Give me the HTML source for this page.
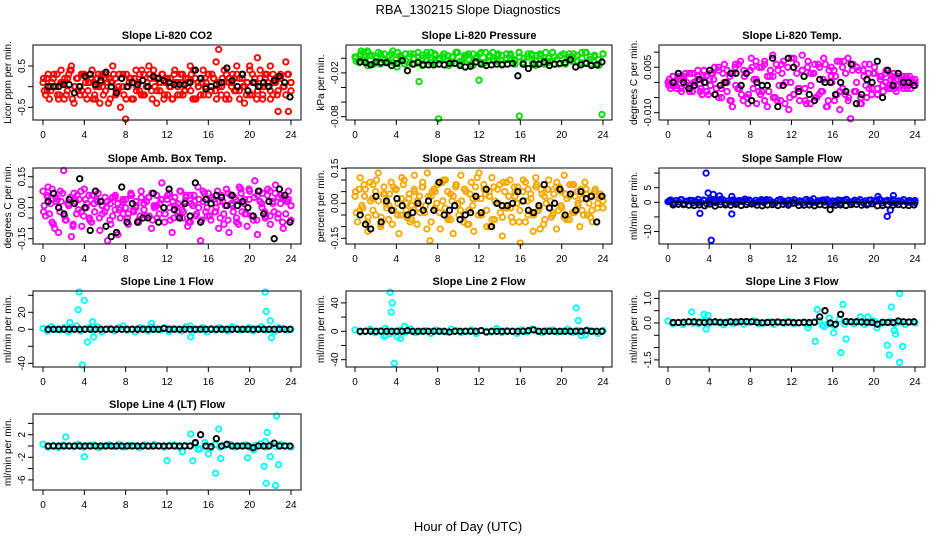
<!DOCTYPE html>
<html><head><meta charset="utf-8"><style>
html,body{margin:0;padding:0;background:#fff}
svg{display:block;font-family:"Liberation Sans",sans-serif}
</style></head><body>
<svg id="chart" width="936" height="540" viewBox="0 0 936 540">
<text x="468" y="14" text-anchor="middle" font-size="13">RBA_130215  Slope Diagnostics</text>
<text x="468" y="531" text-anchor="middle" font-size="13">Hour of Day (UTC)</text>
</svg>
<script>
// ---- data ----
const xTicks=[0,4,8,12,16,20,24];
const co2Color=[0.1,-0.2,0.3,-0.1,0.2,0.0,-0.3,0.4,0.1,-0.2,0.3,0.5,-0.4,0.2,0.0,-0.1,0.3,-0.3,0.1,0.4,-0.2,0.2,-0.4,0.0,0.3,0.1,-0.3,0.5,0.2,-0.1,-0.5,0.3,-0.8,0.0,0.2,-0.3,0.4,0.1,-0.2,0.3,0.0,0.5,-0.1,0.2,-0.4,0.1,0.3,-0.2,0.2,0.0,-0.3,0.4,0.1,-0.2,0.3,-0.1,0.0,0.5,-0.3,0.2,0.1,-0.2,0.4,0.0,0.3,-0.1,0.2,0.6,0.9,-0.2,0.1,0.3,-0.3,0.0,0.2,0.5,-0.1,0.3,-0.4,0.1,0.5,-0.2,0.2,0.7,0.0,-0.3,0.3,0.1,0.5,-0.2,0.2,-0.6,0.3,0.0,0.6,-0.6,0.1];
const co2Color2=[-0.1,0.2,-0.3,0.1,0.0,0.3,-0.2,0.1,0.2,-0.1,0.4,-0.3,0.0,0.2,-0.2,0.3,0.1,-0.1,0.2,-0.3,0.0,0.3,0.1,-0.2,0.2,-0.4,0.1,0.3,-0.1,0.0,0.2,-0.2,0.3,0.1,-0.3,0.2,0.0,-0.1,0.4,-0.2,0.1,0.3,-0.3,0.0,0.2,-0.1,0.3,0.1,-0.2,0.2,-0.3,0.1,0.0,0.3,-0.2,0.2,0.1,-0.1,0.4,-0.3,0.0,0.2,-0.2,0.1,0.3,-0.1,0.2,-0.3,0.1,0.0,0.4,-0.2,0.2,0.1,-0.1,0.3,-0.3,0.2,0.0,0.1,-0.2,0.3,0.1,-0.1,0.4,-0.2,0.2,0.0,-0.3,0.3,0.1,-0.1,0.2,0.0,-0.2,0.3,0.1];
const co2Color3=[0.2,-0.1,0.0,0.3,-0.2,0.1,-0.3,0.2,0.4,0.0,-0.1,0.3,-0.2,0.1,0.2,-0.3,0.0,0.3,-0.1,0.2,0.1,-0.2,0.3,0.0,-0.3,0.2,0.1,-0.1,0.3,-0.2,0.0,0.2,0.4,-0.1,0.1,-0.3,0.2,0.0,0.3,-0.2,0.1,-0.1,0.2,0.3,-0.3,0.0,0.1,0.2,-0.2,0.3,-0.1,0.0,0.2,-0.3,0.1,0.3,-0.1,0.2,0.0,-0.2,0.4,0.1,-0.3,0.2,0.0,0.3,-0.1,0.1,-0.2,0.2,0.0,0.3,-0.1];
const co2Black=[0.0,0.0,0.0,0.05,0.05,-0.15,0.0,0.25,0.3,0.05,0.15,0.35,0.0,-0.15,0.2,0.0,0.1,0.05,0.15,0.0,0.25,0.2,0.15,0.1,0.05,0.05,0.05,0.1,0.4,0.2,-0.05,0.0,0.05,0.1,0.45,0.15,0.0,0.3,-0.1,0.1,0.0,0.1,0.0,0.15,0.25,0.1,-0.25];
const pressColor=[0.002,-0.006,0.008,-0.01,0.004,0.0,-0.008,0.006,-0.004,0.01,-0.012,0.002,0.006,-0.006,0.0,0.008,-0.01,0.004,-0.002,0.006,-0.008,0.002,0.004,-0.006,0.008,-0.004,0.0,0.006,-0.01,0.002,0.008,-0.006,0.004,-0.002,0.006,-0.008,0.0,0.004,-0.004,0.008,-0.006,0.002,0.006,-0.01,0.004,0.0,-0.006,0.008,-0.002,0.004,-0.008,0.006,0.0,-0.004,0.008,-0.006,0.002,0.004,-0.01,0.006];
const pressColor2=[-0.004,0.006,-0.002,0.004,-0.008,0.008,0.0,-0.006,0.006,-0.002,0.004,-0.008,0.002,0.006,-0.004,0.0,0.008,-0.006,0.004,-0.002,0.006,-0.01,0.002,0.008,-0.004,0.004,-0.008,0.0,0.006,-0.006,0.002,0.008,-0.004,0.004,-0.002,0.006,-0.008,0.002,0.0,0.006,-0.006,0.004,-0.002,0.008,-0.004,0.002,-0.008,0.006,0.0,-0.004,0.004,-0.006,0.008,-0.002,0.002,-0.008,0.006];
const pressColor3=[0.0,0.004,-0.004,0.008,-0.008,0.002,0.006,-0.002,0.004,-0.006,0.008,0.0,-0.004,0.006,-0.008,0.002,0.004,-0.002,0.008,-0.006,0.0,0.006,-0.004,0.002,0.008,-0.008,0.004,-0.002,0.006,0.0,-0.006,0.008,0.002,-0.004,0.004,-0.008,0.006,0.0,-0.002,0.008,-0.006,0.002,0.004,-0.004,0.006,-0.008,0.0,0.008,-0.002,0.004,-0.006,0.002,0.006,-0.004,0.0,0.008,-0.008,0.004,-0.002,0.006];
const pressBlack=[-0.005,-0.006,-0.009,-0.005,-0.006,-0.006,-0.01,-0.007,-0.003,-0.017,-0.008,-0.006,-0.009,-0.009,-0.009,-0.008,-0.009,-0.007,-0.007,-0.01,-0.012,-0.011,-0.005,-0.008,-0.01,-0.009,-0.008,-0.009,-0.008,-0.007,-0.024,-0.008,-0.014,-0.008,-0.008,-0.005,-0.01,-0.008,-0.007,-0.006,-0.002,-0.012,-0.009,-0.007,-0.01,-0.009,-0.005];
const pressOutX=[6.2,8.1,12,15.9,23.9,0.6,1.2];
const pressOutY=[-0.032,-0.083,-0.030,-0.079,-0.077,0.01,0.01];
const tempColor=[0.0,-0.002,0.002,-0.001,0.001,-0.003,0.002,0.0,-0.002,0.003,-0.001,0.001,-0.003,0.002,0.0,-0.004,0.003,0.001,-0.002,0.004,-0.005,0.006,-0.003,0.002,-0.008,0.005,-0.002,0.007,-0.006,0.003,-0.004,0.008,0.001,-0.007,0.005,-0.003,0.006,-0.008,0.002,0.009,-0.005,0.004,-0.006,0.007,0.0,-0.009,0.008,-0.004,0.003,-0.006,0.009,-0.002,0.005,-0.007,0.003,-0.005,0.006,-0.003,0.008,-0.008,0.004,0.0,-0.006,0.007,-0.009,0.005,-0.004,0.008,-0.012,0.006,-0.003,0.004,-0.007,0.002,-0.005,0.006,-0.002,0.003,-0.004,0.002,-0.001,0.003,-0.002,0.001,0.0,-0.003,0.002,-0.001,0.001,-0.002,0.002,0.0,-0.001];
const tempColor2=[0.001,-0.001,0.0,0.002,-0.002,0.001,-0.001,0.003,-0.003,0.0,0.002,-0.002,0.004,-0.003,0.001,0.003,-0.004,0.005,-0.002,0.0,0.004,-0.006,0.003,-0.001,0.006,-0.004,0.002,-0.005,0.004,-0.002,0.007,-0.003,0.005,-0.006,0.002,0.004,-0.005,0.006,-0.001,0.003,-0.007,0.005,0.0,-0.004,0.006,-0.002,0.004,-0.006,0.007,-0.001,0.003,-0.005,0.005,-0.003,0.006,-0.006,0.002,0.004,-0.004,0.007,-0.002,0.003,-0.005,0.006,-0.003,0.005,-0.007,0.004,-0.001,0.003,-0.004,0.005,-0.002,0.001,-0.003,0.004,-0.001,0.002,-0.002,0.001,0.0,-0.002,0.002,-0.001,0.001,0.0];
const tempColor3=[-0.001,0.002,-0.002,0.001,0.003,-0.003,0.0,0.004,-0.004,0.002,-0.001,0.005,-0.005,0.003,0.0,-0.006,0.006,-0.002,0.004,-0.007,0.005,0.001,-0.004,0.007,-0.003,0.002,-0.006,0.006,0.0,-0.005,0.008,-0.002,0.004,-0.007,0.003,0.006,-0.004,0.001,-0.008,0.005,0.002,-0.003,0.007,-0.006,0.004,0.0,-0.005,0.006,-0.002,0.003,-0.004,0.002,0.0,-0.002,0.003,-0.001,0.002,0.0,-0.002,0.001];
const tempBlack=[0.0,0.003,0.0,-0.002,-0.001,0.001,0.0,0.004,-0.004,-0.001,0.0,0.003,0.003,-0.001,0.003,-0.006,0.0,-0.001,-0.001,0.008,-0.008,-0.001,0.008,0.005,-0.003,0.002,-0.004,-0.006,0.001,0.0,0.0,-0.004,0.0,-0.003,0.006,-0.007,-0.004,0.001,0.0,0.007,-0.005,0.004,-0.001,0.003,0.0,0.0,-0.001];
const ambColor=[0.08,-0.04,0.10,0.02,-0.08,0.05,-0.12,0.03,0.18,-0.06,0.01,-0.14,0.07,-0.03,0.04,-0.09,0.09,0.02,-0.05,0.06,-0.02,0.03,-0.11,0.01,0.05,-0.16,0.02,-0.04,0.06,-0.13,0.0,-0.03,0.04,-0.08,0.07,-0.01,0.03,-0.06,0.08,0.02,-0.04,0.05,-0.10,0.01,0.06,-0.03,0.12,-0.07,0.04,0.0,-0.12,0.05,-0.02,0.08,-0.05,0.03,-0.09,0.06,0.01,-0.04,0.10,-0.16,0.03,-0.02,0.07,-0.06,0.04,0.0,-0.10,0.06,-0.03,0.09,-0.12,0.02,0.05,-0.07,0.10,-0.02,0.04,-0.09,0.08,-0.04,0.13,-0.13,0.03,0.07,-0.05,0.09,-0.08,0.02,0.11,-0.03,0.06,-0.10,0.04,0.08,-0.06];
const ambColor2=[0.01,0.06,-0.03,0.09,-0.10,0.04,-0.02,0.07,-0.06,0.02,0.05,-0.08,0.03,-0.01,0.08,-0.04,0.0,0.06,-0.07,0.02,0.04,-0.05,0.01,-0.02,0.03,-0.06,0.05,-0.01,0.02,-0.05,0.04,0.0,-0.03,0.06,-0.02,0.01,-0.07,0.05,-0.01,0.03,-0.04,0.07,0.0,-0.05,0.02,0.04,-0.03,0.06,-0.06,0.03,0.01,-0.04,0.08,-0.02,0.05,-0.07,0.02,0.06,-0.03,0.04,-0.06,0.07,0.0,-0.04,0.05,-0.02,0.08,-0.05,0.03,0.01,-0.06,0.06,-0.02,0.04,-0.08,0.07,0.02,-0.03,0.09,-0.04,0.05,-0.06,0.08,0.0,-0.02,0.06,-0.04,0.03,0.07,-0.05,0.02,0.05,-0.03,0.04,0.01];
const ambColor3=[-0.02,0.05,-0.07,0.03,0.08,-0.04,0.01,-0.09,0.06,-0.02,0.04,-0.06,0.02,0.07,-0.03,0.0,-0.08,0.05,-0.01,0.03,-0.05,0.06,0.0,-0.04,0.02,0.05,-0.06,0.01,0.04,-0.03,0.07,-0.05,0.02,-0.01,0.06,-0.07,0.03,0.0,0.08,-0.04,0.05,-0.02,0.03,-0.08,0.07,0.01,-0.05,0.09,-0.03,0.04,-0.06,0.06,0.02,-0.04,0.08,-0.02,0.05,-0.07,0.03,0.01];
const ambBlack=[0.03,0.07,0.0,-0.03,0.04,0.02,0.14,0.0,-0.11,0.08,0.03,-0.09,-0.14,-0.12,0.10,-0.07,0.02,-0.07,-0.05,-0.05,0.07,-0.07,0.0,0.09,-0.01,-0.05,0.02,-0.04,0.12,-0.07,0.04,0.02,0.06,0.05,0.01,0.06,0.01,0.03,0.00,-0.04,0.08,-0.03,0.03,-0.15,0.09,0.06,-0.07];
const rhColor=[0.03,-0.08,0.11,-0.02,0.06,-0.12,0.01,0.08,-0.05,0.13,-0.10,0.04,0.0,-0.07,0.09,-0.03,0.06,-0.13,0.02,0.10,-0.06,0.04,-0.01,0.12,-0.09,0.03,0.07,-0.04,0.13,-0.16,0.05,-0.02,0.08,-0.11,0.01,0.10,-0.06,0.04,-0.13,0.07,0.0,0.12,-0.08,0.05,-0.03,0.09,-0.12,0.02,0.13,-0.05,0.06,-0.10,0.03,0.11,-0.07,0.0,0.08,-0.14,0.05,-0.02,0.10,-0.08,0.03,0.07,-0.17,0.01,0.09,-0.05,0.04,-0.12,0.11,-0.03,0.06,-0.09,0.0,0.10,-0.06,0.04,-0.11,0.07,-0.02,0.12,-0.07,0.03,0.08,-0.04,0.05,-0.10,0.02,0.09,-0.05,0.03,-0.08,0.06,0.0,0.04,-0.02];
const rhColor2=[-0.04,0.06,-0.01,0.03,-0.08,0.09,-0.03,0.05,0.01,-0.06,0.07,-0.02,0.04,-0.09,0.06,0.0,-0.05,0.08,-0.03,0.02,-0.07,0.05,0.01,-0.04,0.07,-0.01,0.03,-0.08,0.06,0.0,-0.04,0.09,-0.02,0.05,-0.07,0.03,0.08,-0.05,0.01,0.06,-0.09,0.04,-0.01,0.07,-0.05,0.02,0.08,-0.03,0.05,-0.07,0.01,0.06,-0.04,0.09,-0.02,0.03,-0.06,0.07,0.0,-0.03,0.05,-0.08,0.06,0.02,-0.05,0.08,-0.02,0.04,-0.07,0.06,0.01,-0.04,0.07,-0.03,0.05,-0.06,0.02,0.08,-0.04,0.03,-0.01,0.06,-0.05,0.04,0.0,-0.03,0.05,-0.02,0.03,0.01];
const rhColor3=[0.05,-0.03,0.08,-0.06,0.02,0.1,-0.09,0.04,-0.01,0.07,-0.05,0.11,0.0,-0.08,0.06,-0.02,0.09,-0.11,0.03,0.05,-0.04,0.1,-0.07,0.01,0.08,-0.03,0.06,-0.09,0.02,0.11,-0.05,0.04,-0.1,0.07,0.0,-0.06,0.09,-0.02,0.05,-0.08,0.1,0.01,-0.04,0.07,-0.11,0.03,0.06,-0.05,0.09,-0.01,0.04,-0.07,0.08,0.0,-0.03,0.06,-0.06,0.05,0.02,-0.02];
const rhBlack=[-0.05,-0.09,-0.11,0.03,-0.08,0.01,-0.03,0.02,-0.01,-0.05,-0.04,0.0,-0.03,0.01,-0.03,0.09,-0.05,-0.03,-0.01,-0.07,-0.05,-0.04,0.03,-0.04,0.06,-0.10,0.0,-0.01,-0.01,0.0,0.05,0.01,-0.03,-0.04,-0.01,0.08,-0.02,0.0,0.06,-0.05,0.04,-0.03,0.05,0.02,0.03,-0.08,0.03];
const flowColor=[0.2,0.8,-0.3,0.6,0.1,0.9,-0.5,0.4,0.7,-0.2,0.5,1.0,0.0,0.6,-0.4,0.8,0.3,-0.1,0.7,0.2,0.9,-0.3,0.5,0.1,0.8,-0.2,0.6,0.3,1.1,0.0,0.4,-0.4,0.7,0.2,0.9,-0.1,0.5,0.8,0.1,-0.3,0.6,1.0,0.3,-0.2,0.7,0.4,0.9,0.0,0.5,-0.3,0.8,0.2,0.6,1.2,-0.1,0.4,0.7,0.1,0.9,-0.4,0.5,0.3,0.8,-0.2,0.6,1.0,0.2,-0.1,0.7,0.4,0.9,0.0,0.5,-0.5,0.8,0.3,0.6,1.1,-0.2,0.4,0.7,0.1,0.9,-0.3,0.5,0.2,0.8,0.0,0.6,0.3,-0.1];
const flowColor2=[0.5,-0.2,0.9,0.3,0.6,-0.1,0.8,0.2,0.4,1.0,-0.3,0.7,0.1,0.5,0.8,-0.2,0.3,0.9,0.0,0.6,0.4,-0.4,0.7,0.2,1.0,-0.1,0.5,0.8,0.3,-0.2,0.6,0.9,0.1,0.4,-0.3,0.7,0.2,0.8,0.5,-0.1,0.3,0.9,0.0,0.6];
const flowBlack=[-0.9,-0.7,-0.8,-1.0,-1.1,-0.9,-1.2,-0.6,-1.3,-0.8,-0.9,-1.0,-0.7,-1.1,-0.8,-0.6,-1.0,-1.2,-0.9,-0.8,-1.1,-0.7,-1.0,-0.3,-1.1,-1.0,-0.9,-1.2,-0.8,-1.0,-2.5,-1.0,-0.9,-1.1,-0.8,-0.7,-1.0,-0.9,-0.5,-1.2,-1.1,-0.9,-1.0,-0.8,-1.0,-1.1,-0.9];
const flowOutX=[3.7,4.2,3.1,3.9,4.4,5.0,6.2,6.2,21.3,21.6,21.9,20.4];
const flowOutY=[10,-13,-3.8,3.2,2.7,2.2,-4,2,-4.8,-2.7,2.3,2.0];
const line1Color=[1,-2,3,0,-1,2,-3,1,4,-2,0,2,-1,3,-3,0,1,-2,2,4,-1,0,-3,2,1,-2,3,0,-1,2,-3,1,0,-2,3,4,-1,0,2,-3,1,-1,2,0,-2,3,1,-1,0,2,-2,1,3,-1,0,-3,2,1,-1,0];
const line1Black=[0,0,0,0,0,0,0,0,0,0,0,0,0,0,0,0,0,0,0,0,0,0,1,0,0,0,0,0,0,0,0,0,0,0,0,0,0,0,0,0,0,0,0,0,0,0,0];
const line1OutX=[3.5,3.4,4.0,4.3,3.8,4.8,4.9,21.5,21.6,22.0,22.1,2.6,14.3,10.5];
const line1OutY=[46,23,34,-15,-42,9,-9,44,21,10,-10,8,-9,7];
const line2Color=[2,-1,0,3,-2,1,4,-3,0,2,-1,3,-2,0,1,-3,2,0,-1,3,1,-2,0,2,-3,1,0,-1,4,-2,1,0,-3,2,-1,3,0,-2,1,2,-1,0,3,-2,1,-1,2,0,-3,1];
const line2Black=[0,0,0,0,0,0,0,0,0,1,0,0,0,0,0,0,0,-1,0,0,0,0,0,1,-1,0,0,0,0,0,0,0,1,2,0,0,0,0,0,0,0,0,0,1,0,0,0];
const line2OutX=[3.4,3.5,3.6,3.8,4.1,4.4,4.8,2.8,3.0,21.4,21.6,21.9,22.3];
const line2OutY=[55,27,40,-45,-8,-10,7,-7,-6,33,15,-6,-5];
const line3Color=[0.08,-0.04,0.02,-0.06,0.05,0.0,-0.03,0.07,-0.05,0.03,0.01,-0.07,0.06,-0.02,0.04,-0.05,0.02,0.08,-0.03,0.0,0.05,-0.06,0.03,-0.01,0.06,-0.04,0.02,0.0,-0.05,0.04,0.1,-0.15,0.2,-0.1,0.15,-0.05,0.06,-0.03,0.04,-0.06,0.02,0.07,-0.04,0.01,0.05,-0.02,0.03,-0.06,0.04,0.0];
const line3Black=[0.02,0.02,0.03,0.05,0.05,0.03,0.02,0.04,0.05,0.03,0.02,0.05,0.04,0.06,0.06,0.05,0.03,0.01,0.02,0.03,0.04,0.02,0.03,0.02,0.01,0.03,0.02,0.03,0.25,0.5,0.0,-0.05,0.35,0.06,0.05,0.05,0.04,0.03,0.02,-0.05,0.03,0.02,0.02,0.08,0.05,0.04,0.05];
const line3OutX=[2.3,3.5,3.9,3.7,14.3,14.5,15.0,15.5,16.1,16.8,17.0,17.3,13.6,18.7,19.4,20.3,21.3,21.5,21.7,22.0,22.1,22.5,22.5,22.8,19.8];
const line3OutY=[0.45,0.35,0.3,-0.25,-0.75,0.55,-0.1,-0.05,-0.4,-1.2,0.75,-0.65,-0.2,0.25,0.25,-0.2,-0.9,-1.3,0.65,-0.3,-0.45,-1.6,1.2,-0.95,0.1];
const line4Color=[0.3,-0.2,0.1,-0.3,0.2,0.0,-0.1,0.3,-0.2,0.1,0.2,-0.3,0.0,0.2,-0.1,0.3,-0.2,0.1,0.0,-0.3,0.2,-0.1,0.3,0.0,-0.2,0.1,0.2,-0.3,0.1,0.0,0.4,-0.5,0.6,-0.4,0.3,-0.2,0.1,0.3,-0.2,0.0,0.2,-0.3,0.1,0.4,-0.2,0.2,-0.1,0.3,0.0,-0.2];
const line4Black=[0,0,0,0,0,0,0,0,0,0,0,0,0,0,0,0,0,0,0,0,0,0,0,0,0,0,0,0,0.6,2.0,0,-0.1,1.3,0,0.3,0,0,0,0,-0.3,0,0,0,0.5,0,0,0];
const line4OutX=[2.2,4.0,12.0,14.3,14.5,15.0,16.0,16.7,17.0,17.2,19.8,20.4,21.4,21.5,21.6,21.7,22.0,22.5,22.6,22.8,13.5];
const line4OutY=[1.6,-1.9,-2.6,2.1,-2.6,-0.6,-1.4,-4.8,3.0,-2.2,-2.1,-0.7,-3.6,0.8,-6.6,2.4,-1.9,-7.0,5.3,-3.3,-1.0];

// ---- layout ----
const colL=[33,346,659], colR=[301,612,925], colX0=[43,355,668], colX24=[291,603,915];
const rowT=[45,168,291,414], rowB=[120,244,367,490];
const NS="http://www.w3.org/2000/svg";
const svg=document.getElementById('chart');
function mk(tag,attrs,parent){const e=document.createElementNS(NS,tag);for(const k in attrs)e.setAttribute(k,attrs[k]);(parent||svg).appendChild(e);return e;}

const panels=[
 {id:'co2',c:0,r:0,title:'Slope Li-820 CO2',ylab:'Licor ppm per min.',v0:0.5,p0:66,v1:-0.5,p1:107.3,ticks:[0.5,0,-0.5],labs:{'0.5':'0.5','-0.5':'-0.5'},col:'#ff0000',s:[co2Color,co2Color2,co2Color3],k:co2Black},
 {id:'pressure',c:1,r:0,title:'Slope Li-820 Pressure',ylab:'kPa per min.',v0:0,p0:58.3,v1:-0.08,p1:116.7,ticks:[0,-0.02,-0.04,-0.06,-0.08],labs:{'-0.02':'-0.02','-0.08':'-0.08'},col:'#00e000',s:[pressColor,pressColor2,pressColor3],k:pressBlack,ox:pressOutX,oy:pressOutY},
 {id:'temp',c:2,r:0,title:'Slope Li-820 Temp.',ylab:'degrees C per min.',v0:0.005,p0:67.3,v1:-0.01,p1:112.7,ticks:[0.01,0.005,0,-0.005,-0.01],labs:{'0.005':'0.005','-0.01':'-0.010'},col:'#ff00ff',s:[tempColor,tempColor2,tempColor3],k:tempBlack},
 {id:'amb-temp',c:0,r:1,title:'Slope Amb. Box Temp.',ylab:'degrees C per min.',v0:0,p0:207.7,v1:0.15,p1:176.7,ticks:[0.15,0.1,0.05,0,-0.05,-0.1,-0.15],labs:{'0.15':'0.15','0':'0.00','-0.15':'-0.15'},col:'#ff00ff',s:[ambColor,ambColor2,ambColor3],k:ambBlack},
 {id:'rh',c:1,r:1,title:'Slope Gas Stream RH',ylab:'percent per min.',v0:0,p0:203.3,v1:0.15,p1:168.3,ticks:[0.15,0.1,0.05,0,-0.05,-0.1,-0.15],labs:{'0.15':'0.15','0':'0.00','-0.15':'-0.15'},col:'#f5a800',s:[rhColor,rhColor2,rhColor3],k:rhBlack},
 {id:'sample-flow',c:2,r:1,title:'Slope Sample Flow',ylab:'ml/min per min.',v0:0,p0:202.3,v1:5,p1:187.7,ticks:[10,5,0,-5,-10],labs:{'5':'5','0':'0','-10':'-10'},col:'#0000ff',s:[flowColor,flowColor2],k:flowBlack,ox:flowOutX,oy:flowOutY},
 {id:'line1-flow',c:0,r:2,title:'Slope Line 1 Flow',ylab:'ml/min per min.',v0:0,p0:329.3,v1:20,p1:312.3,ticks:[40,20,0,-20,-40],labs:{'20':'20','0':'0','-40':'-40'},col:'#00ffff',s:[line1Color],k:line1Black,ox:line1OutX,oy:line1OutY},
 {id:'line2-flow',c:1,r:2,title:'Slope Line 2 Flow',ylab:'ml/min per min.',v0:0,p0:331.3,v1:20,p1:317.1,ticks:[40,20,0,-20,-40],labs:{'40':'40','0':'0','-40':'-40'},col:'#00ffff',s:[line2Color],k:line2Black,ox:line2OutX,oy:line2OutY},
 {id:'line3-flow',c:2,r:2,title:'Slope Line 3 Flow',ylab:'ml/min per min.',v0:0,p0:323,v1:0.5,p1:310.7,ticks:[1,0.5,0,-0.5,-1,-1.5],labs:{'1':'1.0','0':'0.0','-1.5':'-1.5'},col:'#00ffff',s:[line3Color],k:line3Black,ox:line3OutX,oy:line3OutY},
 {id:'line4-flow',c:0,r:3,title:'Slope Line 4 (LT) Flow',ylab:'ml/min per min.',v0:0,p0:446,v1:2,p1:434.7,ticks:[4,2,0,-2,-4,-6],labs:{'2':'2','-2':'-2','-6':'-6'},col:'#00ffff',s:[line4Color],k:line4Black,ox:line4OutX,oy:line4OutY}
];
const offsets=[0,0.12,0.06];

panels.forEach(p=>{
  const L=colL[p.c],R=colR[p.c],T=rowT[p.r],B=rowB[p.r];
  const xs=x=>colX0[p.c]+x/24*(colX24[p.c]-colX0[p.c]);
  const ys=v=>p.p0+(v-p.v0)*(p.p1-p.p0)/(p.v1-p.v0);
  const g=mk('g',{});
  
  
  const t=mk('text',{x:(L+R)/2,y:T-6,'text-anchor':'middle','font-size':11,'font-weight':'bold'},g);
  t.textContent=p.title;
  
  
  const yl=mk('text',{x:0,y:0,'text-anchor':'middle','font-size':10,transform:`translate(${L-22},${(T+B)/2}) rotate(-90)`},g);
  yl.textContent=p.ylab;
  
  
  const pts=mk('g',{fill:'none','stroke-width':1.9},g);
  
  
  p.s.forEach((arr,si)=>{
    const off=offsets[si];
    arr.forEach((v,i)=>{
      const x=off+i*(24-off)/(arr.length-1);
      const yy=Math.max(T+1,Math.min(B-1,ys(v)));
      const c=mk('circle',{cx:xs(x),cy:yy,r:2.7,stroke:p.col},pts);
      
      
    });
  });
  if(p.ox){p.ox.forEach((x,i)=>{
    const yy=Math.max(T+1,Math.min(B-1,ys(p.oy[i])));
    const c=mk('circle',{cx:xs(x),cy:yy,r:2.7,stroke:p.col},pts);
    
    
  });}
  p.k.forEach((v,i)=>{
    const x=0.5+i*(23.9-0.5)/(p.k.length-1);
    const c=mk('circle',{cx:xs(x),cy:ys(v),r:2.7,stroke:'#000'},pts);
    
    
  });
  const box=mk('rect',{x:L,y:T,width:R-L,height:B-T,fill:'none',stroke:'#000','stroke-width':1},g);
  
  
  xTicks.forEach(v=>{
    const x=xs(v);
    mk('line',{x1:x,x2:x,y1:B,y2:B+5,stroke:'#000'},g);
    const tl=mk('text',{x:x,y:B+18,'text-anchor':'middle','font-size':10},g);
    tl.textContent=v;
    
    
  });
  p.ticks.forEach(v=>{
    const y=ys(v);
    mk('line',{x1:L-5,x2:L,y1:y,y2:y,stroke:'#000'},g);
    const key=String(v);
    if(p.labs[key]!==undefined){
      const tl=mk('text',{x:0,y:0,'text-anchor':'middle','font-size':10,transform:`translate(${L-8},${y}) rotate(-90)`},g);
      tl.textContent=p.labs[key];
      
      
    }
  });
});
</script>
</body></html>
